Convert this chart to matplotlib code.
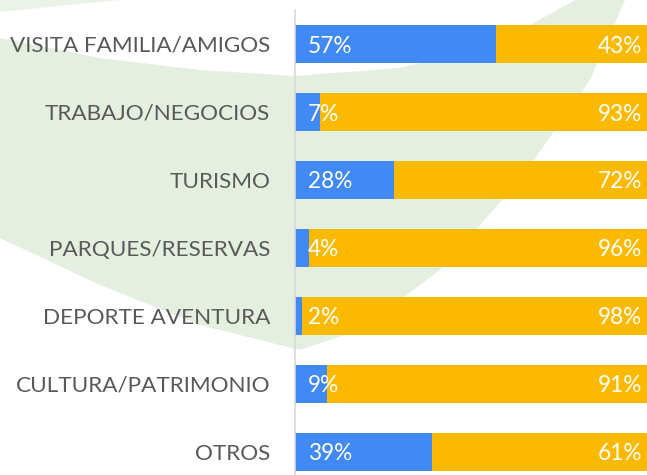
import matplotlib.pyplot as plt
from matplotlib.patches import Polygon

categories = ["VISITA FAMILIA/AMIGOS", "TRABAJO/NEGOCIOS", "TURISMO",
              "PARQUES/RESERVAS", "DEPORTE AVENTURA", "CULTURA/PATRIMONIO", "OTROS"]
si_vals = [57, 7, 28, 4, 2, 9, 39]
no_vals = [43, 93, 72, 96, 98, 91, 61]

BLUE = "#4189F5"
ORANGE = "#FBBA00"
GRAY = "#595959"

plt.rcParams['font.family'] = ['Lato', 'DejaVu Sans']

fig = plt.figure(figsize=(6.47, 4.75), dpi=100)

# faint green leaf watermark in the background
bg = fig.add_axes([0, 0, 1, 1], zorder=0)
bg.set_xlim(0, 647)
bg.set_ylim(475, 0)
bg.axis('off')
leaf = [(0, 38), (100, 58), (200, 70), (295, 76), (400, 68), (500, 42), (575, 0),
        (625, 0), (590, 80), (520, 180), (440, 270), (360, 330), (300, 350),
        (200, 325), (100, 285), (0, 238)]
bg.add_patch(Polygon(leaf, closed=True, color="#E4EFE0", lw=0))
bg.add_patch(Polygon([(0, 0), (120, 0), (0, 12)], closed=True, color="#EBF3E8", lw=0))

ax = fig.add_axes([295 / 647, 0, 1 - 295 / 647, 465 / 475], zorder=1)
ax.patch.set_alpha(0)

y = list(range(len(categories)))
ax.barh(y, si_vals, height=0.55, color=BLUE)
ax.barh(y, no_vals, left=si_vals, height=0.55, color=ORANGE)

for i in y:
    ax.text(3.6, i + 0.03, f"{si_vals[i]}%", color="white", fontsize=16.3,
            ha="left", va="center")
    ax.text(98.6, i + 0.03, f"{no_vals[i]}%", color="white", fontsize=16.3,
            ha="right", va="center")

ax.set_xlim(0, 100)
ax.set_ylim(6.34, -0.5)
ax.set_yticks(y)
ax.set_yticklabels(categories, color=GRAY, fontsize=16.2)
ax.tick_params(axis='y', length=0, pad=18)
ax.set_xticks([])
for s in ["top", "right", "bottom"]:
    ax.spines[s].set_visible(False)
ax.spines["left"].set_color("#D9D9D9")
ax.spines["left"].set_linewidth(1.2)

fig.savefig("out.png", dpi=100)
